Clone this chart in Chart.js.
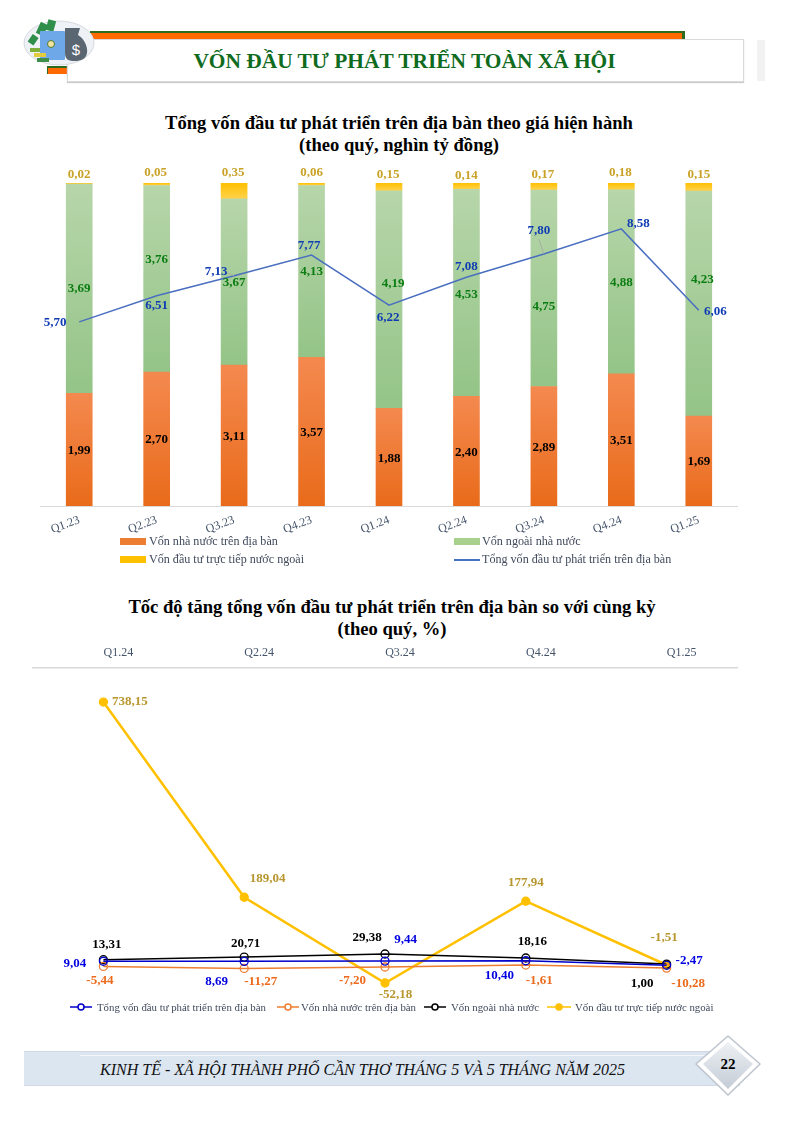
<!DOCTYPE html>
<html lang="vi"><head><meta charset="utf-8"><title>Vốn đầu tư phát triển toàn xã hội</title>
<script src="https://cdn.jsdelivr.net/npm/chart.js@4/dist/chart.umd.min.js"></script>
<style>
html,body{margin:0;padding:0;background:#fff}
#page{position:relative;width:794px;height:1122px;overflow:hidden;font-family:"Liberation Serif",serif}
.abs{position:absolute}
canvas{position:absolute}
.ttl{position:absolute;left:0;width:794px;text-align:center;font-weight:bold;font-size:18.6px;line-height:22px;color:#000}
.lg{position:absolute;font-size:12.1px;line-height:14px;color:#404a5c;white-space:nowrap}
.lg2{font-size:10.8px}
</style></head><body><div id="page">
<!-- header -->
<div class="abs" style="left:90px;top:31px;width:592px;height:7px;background:#ff6a00;border-top:2px solid #2f6b1f;border-right:3px solid #2f6b1f"></div>
<div class="abs" style="left:47px;top:66px;width:21px;height:6px;background:#ff6a00;border-top:2px solid #2f6b1f;border-left:1px solid #2f6b1f"></div>
<div class="abs" style="left:67px;top:39px;width:675px;height:41px;background:#fff;border:1px solid #d9d9d9;box-shadow:0 1px 1px #ccc"></div>
<div class="abs" style="left:757px;top:40px;width:8px;height:41px;background:#f2f2f2"></div>
<svg class="abs" style="left:20px;top:15px" width="78" height="56" viewBox="0 0 78 56">
<ellipse cx="39" cy="28" rx="35" ry="22" fill="#eef1f5" stroke="#d5dae0"/>
<rect x="18" y="8" width="8" height="12" fill="#2f8f4a" transform="rotate(25 22 14)"/>
<rect x="27" y="5" width="8" height="11" fill="#2f8f4a" transform="rotate(15 31 10)"/><rect x="10" y="20" width="7" height="9" fill="#2f8f4a" transform="rotate(35 13 24)"/>
<rect x="20" y="16" width="25" height="29" rx="1" fill="#6fa8e8"/><circle cx="31" cy="29" r="3.5" fill="#f3e5a0" stroke="#4a7a3a"/>
<path d="M45 13h15l-2 7c7 4 10 13 9 18-1 6-6 8-12 8s-10-1-10-8z" fill="#5a6672"/>
<text x="56" y="40" font-size="15" fill="#fff" text-anchor="middle" font-family="Liberation Sans">$</text>
<rect x="10" y="33" width="10" height="4" fill="#7fb03a"/><rect x="14" y="38" width="12" height="4" fill="#e2cb3f"/><rect x="17" y="43" width="12" height="4" fill="#3f8f4a"/>
</svg>
<div class="abs" style="left:67px;top:47px;width:675px;text-align:center;font-size:21.4px;line-height:28px;font-weight:bold;color:#0f6b1e">VỐN ĐẦU TƯ PHÁT TRIỂN TOÀN XÃ HỘI</div>

<div class="ttl" style="top:112px;left:2px">Tổng vốn đầu tư phát triển trên địa bàn theo giá hiện hành<br>(theo quý, nghìn tỷ đồng)</div>
<canvas id="c1" width="794" height="380" style="left:0;top:160px;width:794px;height:380px"></canvas>
<div class="abs" style="left:120px;top:538px;width:26px;height:7px;background:#ed7d31"></div>
<div class="lg" style="left:149px;top:534px">Vốn nhà nước trên địa bàn</div>
<div class="abs" style="left:454px;top:538px;width:26px;height:7px;background:#a9d18e"></div>
<div class="lg" style="left:482px;top:534px">Vốn ngoài nhà nước</div>
<div class="abs" style="left:120px;top:556px;width:26px;height:7px;background:#ffc000"></div>
<div class="lg" style="left:149px;top:552px">Vốn đầu tư trực tiếp nước ngoài</div>
<div class="abs" style="left:454px;top:559px;width:26px;height:1.5px;background:#4472c4"></div>
<div class="lg" style="left:482px;top:552px">Tổng vốn đầu tư phát triển trên địa bàn</div>

<div class="ttl" style="top:596px;left:-5px">Tốc độ tăng tổng vốn đầu tư phát triển trên địa bàn so với cùng kỳ<br>(theo quý, %)</div>
<canvas id="c2" width="794" height="380" style="left:0;top:640px;width:794px;height:380px"></canvas>
<svg class="abs" style="left:68px;top:1000px" width="510" height="14" fill="#fff">
<g stroke-width="1.5"><line x1="2" x2="24" y1="7" y2="7" stroke="#0000cc"/><circle cx="13" cy="7" r="3" stroke="#0000cc"/>
<line x1="209" x2="231" y1="7" y2="7" stroke="#ed7d31"/><circle cx="220" cy="7" r="3" stroke="#ed7d31"/>
<line x1="356" x2="378" y1="7" y2="7" stroke="#000"/><circle cx="367" cy="7" r="3" stroke="#000"/>
<line x1="479" x2="503" y1="7" y2="7" stroke="#ffc000"/><circle cx="491" cy="7" r="3" stroke="#ffc000" fill="#ffc000"/></g></svg>
<div class="lg lg2" style="left:97px;top:1000px">Tổng vốn đầu tư phát triển trên địa bàn</div>
<div class="lg lg2" style="left:301px;top:1000px">Vốn nhà nước trên địa bàn</div>
<div class="lg lg2" style="left:451px;top:1000px">Vốn ngoài nhà nước</div>
<div class="lg lg2" style="left:575px;top:1000px">Vốn đầu tư trực tiếp nước ngoài</div>

<!-- footer -->
<div class="abs" style="left:24px;top:1051px;width:716px;height:33px;background:#dce6f1;border-top:1px solid #cfd8e3;border-bottom:1px solid #cfd8e3"></div>
<div class="abs" style="left:80px;top:1055px;width:650px;height:1px;background:#f2f6fa"></div>
<div class="abs" style="left:100px;top:1060px;font-size:16px;line-height:19px;font-style:italic;color:#111">KINH TẾ - XÃ HỘI THÀNH PHỐ CẦN THƠ THÁNG 5 VÀ 5 THÁNG NĂM 2025</div>
<svg class="abs" style="left:695px;top:1035px" width="66" height="62" viewBox="0 0 66 62">
<defs><linearGradient id="dg" x1="0" y1="0" x2="0" y2="1"><stop offset="0" stop-color="#eef1f4"/><stop offset="1" stop-color="#c4ccd6"/></linearGradient></defs>
<polygon points="33,1 65,29 33,60 1,29" fill="#fff" stroke="#bcc3cc" stroke-linejoin="round" stroke-width="1.5"/>
<polygon points="33,7 58,29 33,54 8,29" fill="url(#dg)"/>
<text x="33" y="34" text-anchor="middle" font-family="Liberation Serif" font-weight="bold" font-size="15">22</text></svg>
</div>
<script>
// ---- chart 1 data ----
const quarters = ['Q1.23','Q2.23','Q3.23','Q4.23','Q1.24','Q2.24','Q3.24','Q4.24','Q1.25'];
const stateCapital = [1.99,2.70,3.11,3.57,1.88,2.40,2.89,3.51,1.69];
const nonStateCapital = [3.69,3.76,3.67,4.13,4.19,4.53,4.75,4.88,4.23];
const fdiCapital = [0.02,0.05,0.35,0.06,0.15,0.14,0.17,0.18,0.15];
const totalCapital = [5.70,6.51,7.13,7.77,6.22,7.08,7.80,8.58,6.06];
// ---- chart 2 data ----
const growthQuarters = ['Q1.24','Q2.24','Q3.24','Q4.24','Q1.25'];
const growthTotal = [9.04,8.69,9.44,10.40,-2.47];
const growthState = [-5.44,-11.27,-7.20,-1.61,-10.28];
const growthNonState = [13.31,20.71,29.38,18.16,1.00];
const growthFdi = [738.15,189.04,-52.18,177.94,-1.51];

const SERIF = '"Liberation Serif", serif';
const share = (arr) => arr.map((v,i) => v / (stateCapital[i]+nonStateCapital[i]+fdiCapital[i]) * 100);
const fmt = v => v.toFixed(2).replace('.', ',');

// label placement (offsets from each mark)
const off1 = {
 state: Array(9).fill([0,1]),
 nonState: [[0,0],[0,-19],[0,1],[0,0],[4,-16],[0,2],[0,18],[0,1],[3.5,-24]],
 fdi: [[0,-8],[-1,-10],[-1,-10],[0,-10],[-1,-8],[0,-7],[-1,-8],[-1,-10],[0,-8]],
 total: [[-24,1],[0,10],[-18,-4],[-2.5,-9],[-1,13],[0,-11],[-5,-23],[17,-5],[16.5,1]]
};
const off2 = {
 total: [[-28.5,2],[-27.5,20.6],[20.5,-21],[-26.5,15],[22.5,-5]],
 state: [[-3.5,14.6],[16.5,13.5],[-32.5,14],[13.5,16],[21.5,16]],
 nonState: [[3.5,-15],[1.5,-13],[-18,-16],[6.5,-16],[-24.5,20]],
 fdi: [[26.5,0],[23.5,-19],[10.5,12],[0,-19],[-2.5,-27]]
};

const labelPlugin = {
 id:'lbl',
 afterDatasetsDraw(chart){
  const c = chart.ctx;
  chart.data.datasets.forEach((ds,di)=>{
   const meta = chart.getDatasetMeta(di);
   meta.data.forEach((el,i)=>{
    const o = ds.lblOff[i];
    let x = el.x, y = el.y;
    if(ds.lblAnchor==='center'){ const p = el.getCenterPoint(); x=p.x; y=p.y; }
    c.save();
    c.font = 'bold 13px '+SERIF;
    c.fillStyle = ds.lblColor;
    c.textAlign='center'; c.textBaseline='middle';
    c.fillText(ds.lblText[i], x+o[0], y+o[1]);
    c.restore();
   });
  });
 }
};
const leaderPlugin = {
 id:'leader',
 afterDatasetsDraw(chart){
  const m = chart.getDatasetMeta(3).data, c = chart.ctx;
  c.save(); c.strokeStyle='#a6a6a6'; c.lineWidth=.8;
  [[2,-8,-3],[6,-5,-15]].forEach(([i,dx,dy])=>{
   const e=m[i]; c.beginPath(); c.moveTo(e.x+dx,e.y+dy); c.lineTo(e.x,e.y); c.stroke();
  });
  c.restore();
 }
};
function barGrad(top,bottom,base){
 return (ctx)=>{
  const a = ctx.chart.chartArea; if(!a) return bottom;
  const y = ctx.chart.scales.y, i = ctx.dataIndex;
  let lo = 0;
  base.forEach(arr=>{ lo += arr[i]; });
  const hi = lo + ctx.dataset.data[i];
  const g = ctx.chart.ctx.createLinearGradient(0,y.getPixelForValue(hi),0,y.getPixelForValue(lo));
  g.addColorStop(0,top); g.addColorStop(1,bottom); return g;
 };
}
const pS=share(stateCapital), pN=share(nonStateCapital), pF=share(fdiCapital);

new Chart(document.getElementById('c1'),{
 data:{labels:quarters,datasets:[
  {type:'bar',label:'Vốn nhà nước trên địa bàn',data:pS,stack:'a',yAxisID:'y',barThickness:26,order:1,
   backgroundColor:barGrad('#f4894f','#e96b1a',[]),lblText:stateCapital.map(fmt),lblOff:off1.state,lblColor:'#000',lblAnchor:'center'},
  {type:'bar',label:'Vốn ngoài nhà nước',data:pN,stack:'a',yAxisID:'y',barThickness:26,order:1,
   backgroundColor:barGrad('#b7d6aa','#94c487',[pS]),lblText:nonStateCapital.map(fmt),lblOff:off1.nonState,lblColor:'#0b7d12',lblAnchor:'center'},
  {type:'bar',label:'Vốn đầu tư trực tiếp nước ngoài',data:pF,stack:'a',yAxisID:'y',barThickness:26,order:1,
   backgroundColor:barGrad('#ffc000','#ffd24d',[pS,pN]),lblText:fdiCapital.map(fmt),lblOff:off1.fdi,lblColor:'#c9a227',lblAnchor:'top'},
  {type:'line',label:'Tổng vốn đầu tư phát triển trên địa bàn',data:totalCapital,yAxisID:'y2',order:0,
   borderColor:'#4a6fc0',borderWidth:1.5,pointRadius:0,tension:0,fill:false,lblText:totalCapital.map(fmt),lblOff:off1.total,lblColor:'#0f3cb4',lblAnchor:'point'}
 ]},
 options:{responsive:false,animation:false,
  layout:{padding:{top:23,left:40.5,right:56.5,bottom:0}},
  plugins:{legend:{display:false},tooltip:{enabled:false}},
  scales:{
   x:{stacked:true,offset:true,grid:{display:false,drawTicks:false},border:{color:'#d9d9d9'},
      ticks:{minRotation:20,maxRotation:20,font:{family:SERIF,size:12},color:'#44546a',padding:7},
      afterFit(s){s.height=34;s.paddingLeft=0;s.paddingRight=0;}},
   y:{stacked:true,min:0,max:100,display:false},
   y2:{min:0,max:10,display:false}
  }},
 plugins:[leaderPlugin,labelPlugin]
});

new Chart(document.getElementById('c2'),{
 type:'line',
 data:{labels:growthQuarters,datasets:[
  {label:'Tổng vốn đầu tư phát triển trên địa bàn',data:growthTotal,borderColor:'#0000cc',lblText:growthTotal.map(fmt),lblOff:off2.total,lblColor:'#0000e0',pointBackgroundColor:'rgba(255,255,255,0)'},
  {label:'Vốn nhà nước trên địa bàn',data:growthState,borderColor:'#ed7d31',lblText:growthState.map(fmt),lblOff:off2.state,lblColor:'#ec6a1c',pointBackgroundColor:'rgba(255,255,255,0)'},
  {label:'Vốn ngoài nhà nước',data:growthNonState,borderColor:'#000',lblText:growthNonState.map(fmt),lblOff:off2.nonState,lblColor:'#000',pointBackgroundColor:'rgba(255,255,255,0)'},
  {label:'Vốn đầu tư trực tiếp nước ngoài',data:growthFdi,borderColor:'#ffc000',borderWidth:2.5,lblText:growthFdi.map(fmt),lblOff:off2.fdi,lblColor:'#b8962e',pointBackgroundColor:'#ffc000'}
 ].map(d=>Object.assign({borderWidth:1.5,tension:0,pointRadius:4,pointBorderWidth:1.3,pointBorderColor:d.borderColor,fill:false},d))},
 options:{responsive:false,animation:false,
  layout:{padding:{top:0,left:33,right:57,bottom:20}},
  plugins:{legend:{display:false},tooltip:{enabled:false}},
  scales:{
   x:{position:'top',offset:true,grid:{display:false,drawTicks:false},border:{color:'#d9d9d9',width:1.5},
      ticks:{maxRotation:0,minRotation:0,labelOffset:15,font:{family:SERIF,size:12},color:'#44546a',padding:8},
      afterFit(s){s.height=28;s.paddingLeft=0;s.paddingRight=0;}},
   y:{min:-100,max:834,display:false}
  }},
 plugins:[labelPlugin]
});
</script></body></html>
